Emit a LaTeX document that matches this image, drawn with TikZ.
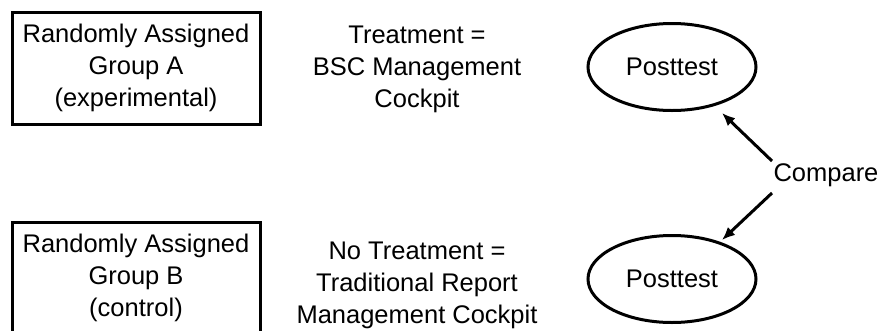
\documentclass[tikz,border=0pt]{standalone}
\usepackage{fontspec}
\setmainfont{Liberation Sans}
\usetikzlibrary{arrows.meta,shapes.geometric}

\tikzset{
	group/.style={draw, line width=3pt, minimum width=248pt, minimum height=112pt, align=center, inner sep=0pt},
	post/.style={draw, ellipse, line width=3pt, minimum width=168pt, minimum height=87pt, inner sep=0pt},
	treat/.style={align=center},
	cmparrow/.style={line width=3pt, -{Latex[length=13pt,width=11pt]}}
}

\begin{document}
\begin{tikzpicture}[x=1pt, y=-1pt, font=\fontsize{25.5}{32}\selectfont]
	\useasboundingbox (0,0) rectangle (884,330);

	% group A
	\node[group] (grpA) at (136,68) {Randomly Assigned\\Group A\\(experimental)};
	\node[treat] (trtA) at (417,69) {Treatment =\\BSC Management\\Cockpit};
	\node[post] (postA) at (672,67) {Posttest};

	% group B
	\node[group] (grpB) at (136,278) {Randomly Assigned\\Group B\\(control)};
	\node[treat] (trtB) at (417,285) {No Treatment =\\Traditional Report\\Management Cockpit};
	\node[post] (postB) at (672,279) {Posttest};

	% compare
	\node (cmp) at (826,175) {Compare};
	\coordinate (upTail) at (772,161);
	\coordinate (upTip) at (722,113);
	\coordinate (downTail) at (772,193);
	\coordinate (downTip) at (722,240);
	\draw[cmparrow] (upTail) -- (upTip);
	\draw[cmparrow] (downTail) -- (downTip);

\end{tikzpicture}
\end{document}
